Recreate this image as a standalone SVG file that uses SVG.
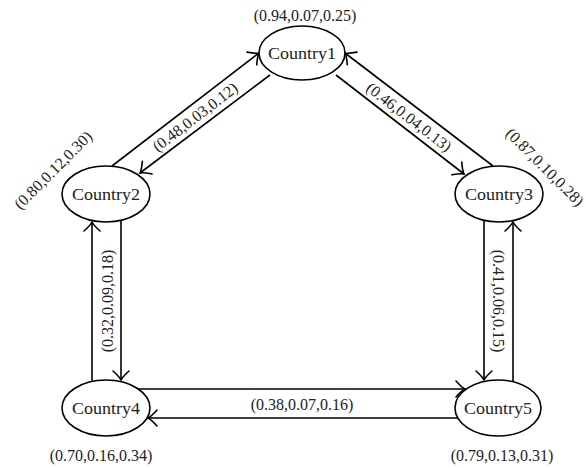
<svg xmlns="http://www.w3.org/2000/svg" width="586" height="468" viewBox="0 0 586 468">
<defs>
<marker id="arr" viewBox="-12 -10 14 20" refX="0" refY="0" markerWidth="14" markerHeight="20" markerUnits="userSpaceOnUse" orient="auto" overflow="visible">
<path d="M-9,-8 C-5,-3.5 -2,-1 0,0 C-2,1 -5,3.5 -9,8" fill="none" stroke="#000" stroke-width="1.6" stroke-linecap="round"/>
</marker>
<style>
.n ellipse{fill:#fff;stroke:#000;stroke-width:1.6}
.t{font-family:"Liberation Serif","Times New Roman",serif;font-size:16px;fill:#222;text-anchor:middle;dominant-baseline:central}
.e line{stroke:#000;stroke-width:1.6;marker-end:url(#arr)}
</style>
</defs>
<rect width="586" height="468" fill="#fff"/>
<g id="connectors" class="e">
<line x1="112" y1="166" x2="259" y2="53"/>
<line x1="270" y1="75" x2="140" y2="173"/>
<line x1="336" y1="75" x2="464" y2="174"/>
<line x1="493" y1="166" x2="345" y2="53"/>
<line x1="121" y1="221" x2="121" y2="380"/>
<line x1="92" y1="381" x2="92" y2="222"/>
<line x1="484" y1="221" x2="484" y2="380"/>
<line x1="513" y1="381" x2="513" y2="222"/>
<line x1="138" y1="389" x2="465" y2="389"/>
<line x1="458" y1="418" x2="148" y2="418"/>
</g>
<g id="edge-labels">
<text class="t" transform="translate(195,117) rotate(-37.5)">(0.48,0.03,0.12)</text>
<text class="t" transform="translate(409,117) rotate(37.5)">(0.46,0.04,0.13)</text>
<text class="t" transform="translate(107,301) rotate(-90)">(0.32,0.09,0.18)</text>
<text class="t" transform="translate(498,301) rotate(90)">(0.41,0.06,0.15)</text>
<text class="t" x="302" y="404">(0.38,0.07,0.16)</text>
</g>
<g id="Country1" class="n">
<ellipse cx="302" cy="53" rx="43" ry="27"/>
<text class="t" x="302" y="53" textLength="68" lengthAdjust="spacingAndGlyphs">Country1</text>
<text class="t" x="305" y="15">(0.94,0.07,0.25)</text>
</g>
<g id="Country2" class="n">
<ellipse cx="106" cy="194" rx="44" ry="28"/>
<text class="t" x="106" y="194" textLength="68" lengthAdjust="spacingAndGlyphs">Country2</text>
<text class="t" transform="translate(53,170) rotate(-45)">(0.80,0.12,0.30)</text>
</g>
<g id="Country3" class="n">
<ellipse cx="499" cy="194" rx="44" ry="28"/>
<text class="t" x="499" y="194" textLength="68" lengthAdjust="spacingAndGlyphs">Country3</text>
<text class="t" transform="translate(545,167) rotate(45)">(0.87,0.10,0.28)</text>
</g>
<g id="Country4" class="n">
<ellipse cx="106" cy="408" rx="44" ry="28"/>
<text class="t" x="106" y="408" textLength="68" lengthAdjust="spacingAndGlyphs">Country4</text>
<text class="t" x="101" y="455">(0.70,0.16,0.34)</text>
</g>
<g id="Country5" class="n">
<ellipse cx="498" cy="408" rx="43" ry="28"/>
<text class="t" x="498" y="408" textLength="68" lengthAdjust="spacingAndGlyphs">Country5</text>
<text class="t" x="502" y="455">(0.79,0.13,0.31)</text>
</g>
</svg>
